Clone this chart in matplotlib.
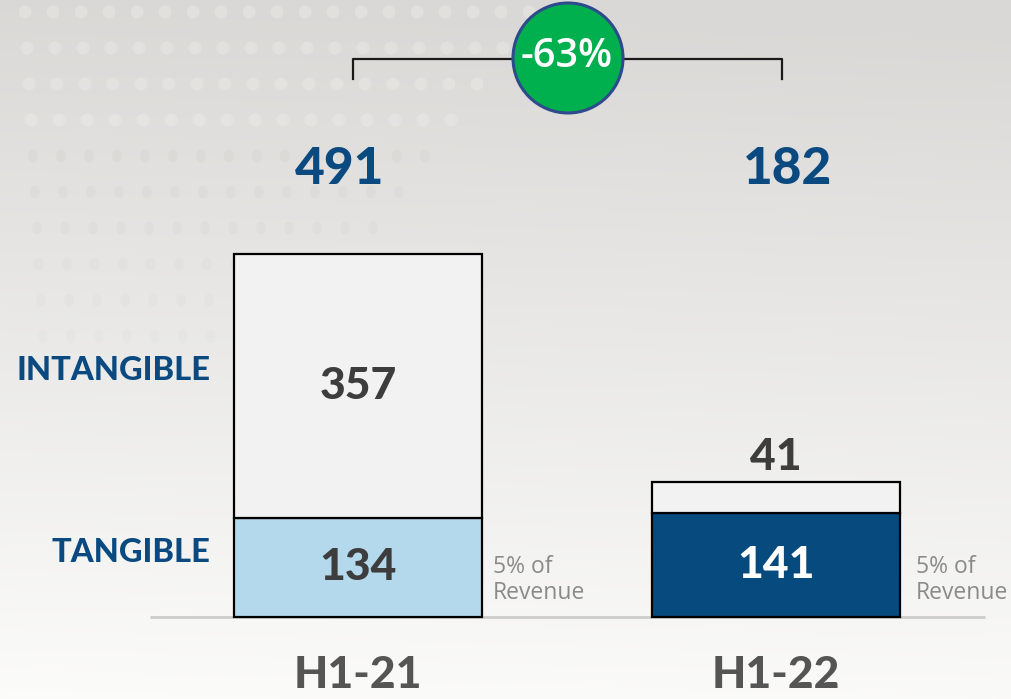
import numpy as np
import matplotlib
matplotlib.use("Agg")
import matplotlib.pyplot as plt
from matplotlib.patches import Circle, Ellipse

# ---- data ----
periods = ["H1-21", "H1-22"]
tangible = [134, 141]
intangible = [357, 41]
totals = [491, 182]
change_label = "-63%"
row_labels = ["INTANGIBLE", "TANGIBLE"]
revenue_note = "5% of\nRevenue"

# ---- style ----
DARK_BLUE = "#0a4a80"
TANG_COLORS = ["#b4d9ec", "#064a7e"]
INTANG_COLOR = "#f2f2f2"
VAL_COLORS_TANG = ["#3d3d3d", "#ffffff"]
GRAY_TXT = "#555555"
TOTAL_XSHIFT_PX = [-18, 12]
NOTE_GAP_PX = [11, 16]

W, H = 1011, 699
fig = plt.figure(figsize=(W / 100, H / 100), dpi=100)

# background gradient
bg = fig.add_axes([0, 0, 1, 1])
bg.set_xlim(0, W)
bg.set_ylim(H, 0)
bg.axis("off")
yy, xx = np.mgrid[0:H, 0:W]
t = np.clip(yy / H * 0.95 + (1 - xx / W) * 0.04 - 0.05, 0, 1)
top = np.array([0.855, 0.85, 0.84])
bot = np.array([0.995, 0.995, 0.99])
img = top[None, None, :] * (1 - t[..., None]) + bot[None, None, :] * t[..., None]
bg.imshow(img, extent=(0, W, H, 0), aspect="auto", zorder=0)
# faint decorative dots
for r in range(0, 10):
    yv = 12 + r * 36
    for c in range(0, 20):
        xv = 25 + c * 28 + r * 2
        if xv > 560 - r * 30:
            continue
        light = r < 4
        a = 0.32 if light else max(0.0, 0.22 - (r - 4) * 0.03)
        bg.add_patch(Ellipse((xv, yv), 10 + (3 if light else 0), 13, color="#f3f1ee" if light else "#cbc9c6",
                             alpha=a, lw=0, zorder=1))

# main axes: data coords
ax = fig.add_axes([0, 0, 1, 1], facecolor="none")
px_per_unit = 363 / 491
base_px = 617
ax.set_ylim(-(H - base_px) / px_per_unit, base_px / px_per_unit)
xunit = 418.0
ax.set_xlim(-358 / xunit, 1 + (W - 776) / xunit)
ax.axis("off")

x = np.arange(len(periods))
bw = 248 / xunit
ax.bar(x, tangible, width=bw, color=TANG_COLORS, edgecolor="black", linewidth=1.6, zorder=3)
ax.bar(x, intangible, bottom=tangible, width=bw, color=INTANG_COLOR, edgecolor="black",
       linewidth=1.6, zorder=3)

# baseline
ax.plot([(150 - 358) / xunit, (985 - 358) / xunit], [0, 0], color="#cccccc", lw=2, zorder=2,
        solid_capstyle="butt")

heavy = dict(family=["Lato", "DejaVu Sans"], fontweight="black")
u = 1 / px_per_unit

for i in range(len(periods)):
    # totals
    ax.text(x[i] + TOTAL_XSHIFT_PX[i] / xunit, (617 - 170) * u, str(totals[i]), ha="center",
            va="center", fontsize=37, color=DARK_BLUE, **heavy)
    # tangible value
    ax.text(x[i], tangible[i] / 2, str(tangible[i]), ha="center", va="center",
            fontsize=32, color=VAL_COLORS_TANG[i], **heavy)
    # period label
    ax.text(x[i], -(675 - 617) * u, periods[i], ha="center", va="center",
            fontsize=32, color=GRAY_TXT, **heavy)
    # revenue note
    ax.text(x[i] + bw / 2 + NOTE_GAP_PX[i] / xunit, (617 - 580) * u, revenue_note, ha="left",
            va="center", fontsize=16.5, color="#8a8a8a", family=["Open Sans", "DejaVu Sans"],
            linespacing=1.1)

# intangible values
ax.text(x[0], tangible[0] + intangible[0] / 2, str(intangible[0]), ha="center", va="center",
        fontsize=32, color="#3d3d3d", **heavy)
ax.text(x[1], totals[1] + 25 * u, str(intangible[1]), ha="center", va="center",
        fontsize=32, color="#3d3d3d", **heavy)

# row labels
lx = (210 - 358) / xunit
ax.text(lx, (617 - 370) * u, row_labels[0], ha="right", va="center", fontsize=23.5,
        color=DARK_BLUE, **heavy)
ax.text(lx, (617 - 552) * u, row_labels[1], ha="right", va="center", fontsize=23.5,
        color=DARK_BLUE, **heavy)

# bracket
bx0 = (353 - 358) / xunit
bx1 = (782 - 358) / xunit
by = (617 - 59) * u
bdrop = 20 * u
ax.plot([bx0, bx0, bx1, bx1], [by - bdrop, by, by, by - bdrop], color="#1a1a1a", lw=1.6, zorder=4)

# overlay in pixel coords for the round badge
ov = fig.add_axes([0, 0, 1, 1], facecolor="none")
ov.set_xlim(0, W)
ov.set_ylim(H, 0)
ov.axis("off")
ov.add_patch(Circle((568, 58), 55, facecolor="#00b04f", edgecolor="#2e4a8c", lw=2.2, zorder=5))
ov.text(567, 57, change_label, ha="center", va="center", fontsize=28.5, color="white",
        fontweight="semibold", family=["Open Sans", "DejaVu Sans"], zorder=6)

fig.savefig("out.png", dpi=100)
